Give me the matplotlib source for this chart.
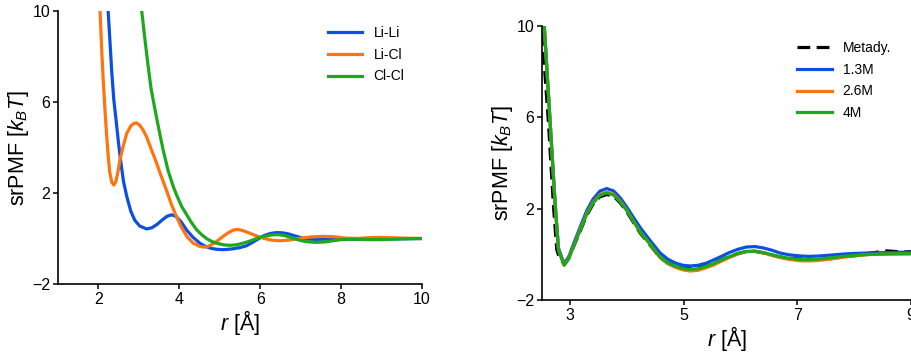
import matplotlib
matplotlib.use("Agg")
import matplotlib.pyplot as plt

plt.rcParams['font.family'] = ['Liberation Sans', 'DejaVu Sans']
plt.rcParams['mathtext.fontset'] = 'custom'
plt.rcParams['mathtext.rm'] = 'Liberation Sans'
plt.rcParams['mathtext.it'] = 'Liberation Sans:italic'

BLUE = '#0b4fe3'
ORANGE = '#ff7410'
GREEN = '#1ea81e'

# left panel: srPMF of ion pairs
lili_r = [2.20, 2.24, 2.28, 2.33, 2.38, 2.43, 2.49, 2.55, 2.62, 2.70, 2.80, 2.90, 3.02, 3.19, 3.32,
          3.45, 3.58, 3.70, 3.81, 3.92, 4.05, 4.18, 4.34, 4.51, 4.65, 4.80, 4.95, 5.10, 5.30, 5.50,
          5.66, 5.80, 5.95, 6.10, 6.25, 6.40, 6.55, 6.70, 6.85, 7.00, 7.15, 7.35, 7.60, 8.00, 8.50,
          9.00, 9.50, 10.0]
lili_v = [12.5, 10.0, 8.8, 7.3, 6.1, 5.3, 4.3, 3.4, 2.5, 1.85, 1.2, 0.8, 0.55, 0.42, 0.47,
          0.62, 0.82, 0.98, 1.04, 0.97, 0.72, 0.37, 0.05, -0.21, -0.35, -0.44, -0.48, -0.49, -0.46, -0.4,
          -0.32, -0.18, -0.02, 0.13, 0.22, 0.26, 0.25, 0.2, 0.12, 0.04, -0.02, -0.04, -0.03, -0.02, -0.04,
          -0.02, -0.01, 0.0]

licl_r = [2.00, 2.04, 2.08, 2.12, 2.16, 2.20, 2.24, 2.28, 2.33, 2.38, 2.43, 2.48, 2.53, 2.61, 2.70,
          2.80, 2.88, 2.94, 3.02, 3.10, 3.19, 3.30, 3.44, 3.56, 3.68, 3.80, 3.93, 4.05, 4.18, 4.34,
          4.51, 4.62, 4.75, 4.90, 5.05, 5.20, 5.32, 5.42, 5.55, 5.70, 5.90, 6.10, 6.30, 6.50, 6.70,
          6.95, 7.25, 7.55, 7.80, 8.10, 8.40, 8.70, 8.95, 9.30, 9.70, 10.0]
licl_v = [13.5, 10.0, 8.3, 6.9, 5.7, 4.6, 3.65, 2.9, 2.47, 2.35, 2.5, 2.9, 3.45, 4.05, 4.62,
          4.95, 5.06, 5.08, 4.98, 4.78, 4.47, 3.95, 3.3, 2.7, 2.13, 1.52, 0.96, 0.5, 0.1, -0.2,
          -0.35, -0.38, -0.32, -0.16, 0.05, 0.24, 0.36, 0.4, 0.36, 0.26, 0.12, 0.0, -0.08, -0.1, -0.07,
          0.0, 0.07, 0.09, 0.08, 0.02, 0.0, 0.04, 0.05, 0.03, 0.01, 0.0]

clcl_r = [2.95, 3.07, 3.14, 3.22, 3.30, 3.40, 3.50, 3.60, 3.72, 3.85, 3.95, 4.06, 4.18, 4.30, 4.42,
          4.55, 4.67, 4.80, 4.95, 5.10, 5.25, 5.40, 5.55, 5.70, 5.85, 6.00, 6.15, 6.30, 6.45, 6.60,
          6.75, 6.90, 7.05, 7.20, 7.40, 7.60, 7.80, 8.00, 8.30, 8.70, 9.00, 9.50, 10.0]
clcl_v = [11.7, 10.0, 8.9, 7.7, 6.6, 5.65, 4.75, 3.89, 3.0, 2.28, 1.84, 1.4, 1.05, 0.7, 0.4,
          0.17, 0.0, -0.13, -0.22, -0.28, -0.3, -0.28, -0.22, -0.14, -0.04, 0.05, 0.11, 0.16, 0.17, 0.13,
          0.05, -0.04, -0.11, -0.15, -0.17, -0.15, -0.1, -0.05, -0.03, -0.05, -0.05, -0.02, 0.0]

# right panel: concentration dependence vs metadynamics
conc_r = [2.54, 2.64, 2.73, 2.79, 2.89, 2.97, 3.05, 3.17, 3.29, 3.40, 3.52, 3.64, 3.76, 3.88, 3.99,
          4.11, 4.23, 4.40, 4.58, 4.72, 4.85, 4.98, 5.11, 5.25, 5.40, 5.52, 5.66, 5.80, 5.95, 6.10,
          6.25, 6.40, 6.55, 6.69, 6.85, 7.04, 7.20, 7.40, 7.60, 7.80, 8.00, 8.27, 8.60, 9.00]
m13_v = [10.0, 5.95, 2.3, 0.28, -0.42, -0.12, 0.42, 1.18, 1.92, 2.42, 2.77, 2.88, 2.78, 2.47, 2.08,
         1.62, 1.17, 0.62, 0.06, -0.22, -0.38, -0.48, -0.51, -0.48, -0.38, -0.25, -0.09, 0.08, 0.22, 0.32,
         0.34, 0.28, 0.18, 0.06, -0.02, -0.07, -0.09, -0.07, -0.03, 0.01, 0.04, 0.06, 0.08, 0.1]
m26_v = [10.0, 5.9, 2.25, 0.2, -0.47, -0.19, 0.33, 1.07, 1.8, 2.28, 2.61, 2.72, 2.63, 2.33, 1.95,
         1.45, 0.98, 0.45, -0.15, -0.42, -0.57, -0.68, -0.73, -0.7, -0.58, -0.47, -0.3, -0.14, 0.01, 0.12,
         0.13, 0.06, -0.05, -0.14, -0.22, -0.28, -0.29, -0.26, -0.2, -0.13, -0.07, -0.01, 0.01, 0.02]
m40_v = [10.0, 5.88, 2.22, 0.18, -0.48, -0.2, 0.32, 1.05, 1.78, 2.25, 2.58, 2.69, 2.6, 2.3, 1.93,
         1.45, 0.98, 0.47, -0.12, -0.38, -0.52, -0.62, -0.66, -0.63, -0.52, -0.41, -0.25, -0.1, 0.04, 0.13,
         0.14, 0.08, -0.02, -0.1, -0.17, -0.22, -0.23, -0.2, -0.15, -0.09, -0.05, 0.0, 0.02, 0.03]

meta_r = [2.50, 2.61, 2.70, 2.76, 2.82, 2.89, 2.97, 3.05, 3.17, 3.29, 3.40, 3.52, 3.64, 3.76, 3.88,
          3.99, 4.11, 4.23, 4.40, 4.58, 4.72, 4.85, 4.98, 5.11, 5.25, 5.40, 5.52, 5.66, 5.80, 5.95,
          6.10, 6.25, 6.40, 6.55, 6.69, 6.85, 7.04, 7.20, 7.39, 7.55, 7.69, 7.85, 8.00, 8.15, 8.27,
          8.42, 8.57, 8.70, 8.85, 9.00]
meta_v = [9.7, 5.9, 2.2, 0.2, -0.25, -0.38, -0.15, 0.3, 1.0, 1.72, 2.2, 2.52, 2.62, 2.55, 2.25,
          1.88, 1.4, 0.93, 0.42, -0.15, -0.38, -0.5, -0.58, -0.62, -0.6, -0.5, -0.4, -0.25, -0.1, 0.03,
          0.12, 0.13, 0.06, -0.03, -0.12, -0.17, -0.2, -0.22, -0.23, -0.2, -0.15, -0.1, -0.06, 0.0, 0.05,
          0.1, 0.15, 0.13, 0.1, 0.12]

fig = plt.figure(figsize=(9.12, 3.56), dpi=100)
ax1 = fig.add_axes([58/912, 1 - 284/356, 364/912, 273/356])
ax2 = fig.add_axes([542/912, 1 - 300/356, 369/912, 274/356])

lw = 2.3
ax1.plot(lili_r, lili_v, color=BLUE, lw=lw, label='Li-Li')
ax1.plot(licl_r, licl_v, color=ORANGE, lw=lw, label='Li-Cl')
ax1.plot(clcl_r, clcl_v, color=GREEN, lw=lw, label='Cl-Cl')
ax1.set_xlim(1, 10)
ax1.set_xticks([2, 4, 6, 8, 10])

ax2.plot(meta_r, meta_v, color='black', lw=lw, dashes=(4, 2), label='Metady.')
ax2.plot(conc_r, m13_v, color=BLUE, lw=lw, label='1.3M')
ax2.plot(conc_r, m26_v, color=ORANGE, lw=lw, label='2.6M')
ax2.plot(conc_r, m40_v, color=GREEN, lw=lw, label='4M')
ax2.set_xlim(2.5, 9)
ax2.set_xticks([3, 5, 7, 9])

for ax in (ax1, ax2):
    ax.set_ylim(-2, 10)
    ax.set_yticks([-2, 2, 6, 10])
    for s in ('top', 'right'):
        ax.spines[s].set_visible(False)
    for s in ('left', 'bottom'):
        ax.spines[s].set_linewidth(1.2)
    ax.tick_params(length=3.5, width=1.1, labelsize=11.5, pad=2)
    ax.set_xlabel(r'$r$ [Å]', fontsize=15.5, labelpad=1)
    ax.set_ylabel(r'srPMF [$k_BT$]', fontsize=15.5, labelpad=1)

ax1.legend(loc='upper left', bbox_to_anchor=(0.722, 0.97), frameon=False, fontsize=10,
           handlelength=2.5, handletextpad=0.8, labelspacing=0.55, borderpad=0)
ax2.legend(loc='upper left', bbox_to_anchor=(0.672, 0.97), frameon=False, fontsize=10,
           handlelength=2.5, handletextpad=0.8, labelspacing=0.55, borderpad=0)

fig.savefig('out.png', dpi=100)
